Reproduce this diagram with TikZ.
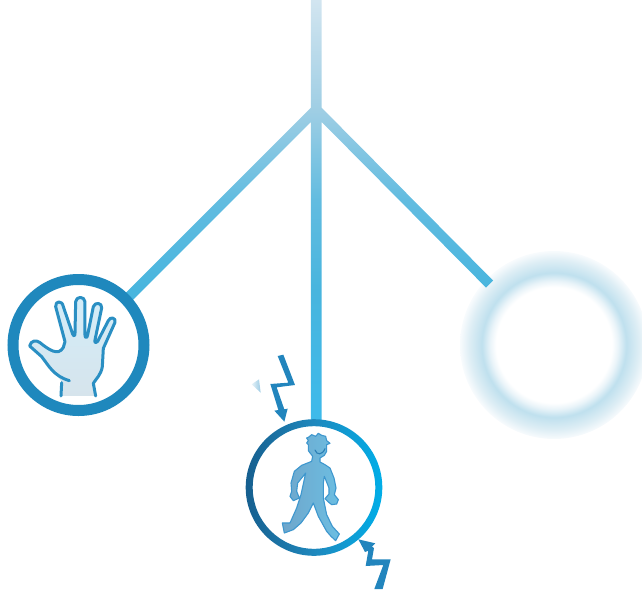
\documentclass[tikz,border=0pt]{standalone}
\usetikzlibrary{calc}
\definecolor{ringblue}{HTML}{1F88BD}
\definecolor{boltblue}{HTML}{2285BD}
\definecolor{handline}{HTML}{2A8FC3}
\definecolor{sA}{HTML}{D2E5F0}
\definecolor{sB}{HTML}{9FCEE4}
\definecolor{sC}{HTML}{62BCE0}
\definecolor{sD}{HTML}{48B5DE}
\definecolor{sE}{HTML}{3DBAEB}
\definecolor{glowc}{HTML}{BFE0EE}
\definecolor{glowa}{HTML}{EAF4F9}
\definecolor{glowb}{HTML}{DEEEF5}
\definecolor{glowd}{HTML}{F8FBFD}
\definecolor{handtop}{HTML}{D3EDF9}
\definecolor{handbot}{HTML}{D6E4EC}
\definecolor{ringL}{HTML}{165F8F}
\definecolor{ringR}{HTML}{00AEE8}
\definecolor{persL}{HTML}{6FA6CB}
\definecolor{persR}{HTML}{6CBEE2}
\definecolor{persline}{HTML}{3E97CE}
\definecolor{smile}{HTML}{2B7FB5}
\definecolor{sparkc}{HTML}{9CCBE4}
\definecolor{sparka}{HTML}{E6F2F8}
\pgfdeclareverticalshading{trunkshade}{100bp}{color(0bp)=(sE);color(25bp)=(sE);color(40.7bp)=(sD);color(51.4bp)=(sC);color(62bp)=(sB);color(75bp)=(sA);color(100bp)=(sA)}
\pgfdeclareradialshading{glowshade}{\pgfpoint{0bp}{0bp}}{color(0bp)=(white);color(15.4bp)=(white);color(17bp)=(glowa);color(19.2bp)=(glowc);color(22.6bp)=(glowb);color(25bp)=(glowd);color(50bp)=(glowd)}
\tikzset{
  bolt/.style={fill=boltblue,draw=none},
  zoomed/.style={shift={#1},x=0.3333pt,y=-0.3333pt},
  outline/.style={handline,line width=3pt,line join=round,line cap=round},
}
\begin{document}
\begin{tikzpicture}[x=1pt,y=-1pt]
\useasboundingbox (0,0) rectangle (642,589);
\clip (0,0) rectangle (642,589);
% named anchors
\coordinate (top) at (316.3,0);
\coordinate (junction) at (316.3,109.5);
\coordinate (endL) at (121.3,304.5);
\coordinate (endR) at (489.5,284);
\coordinate (endM) at (316.3,423);
% glow ring
\shade[shading=glowshade] (554,345) circle[radius=94pt];
% trunk and branches
\shade[shading=trunkshade]
  ($(top)+(-5.4,0)$) -- ($(junction)+(-5.4,-1.7)$) -- ($(endL)+(-3.54,-3.54)$) -- ($(endL)+(3.54,3.54)$)
  -- ($(junction)+(-5.4,12.5)$) -- ($(endM)+(-5.4,0)$) -- ($(endM)+(5.4,0)$) -- ($(junction)+(5.4,12.5)$)
  -- ($(endR)+(-3.54,3.54)$) -- ($(endR)+(3.54,-3.54)$) -- ($(junction)+(5.4,-1.7)$) -- ($(top)+(5.4,0)$) -- cycle;
% hand circle
\node[circle,draw=ringblue,line width=11pt,fill=white,inner sep=0pt,minimum size=131pt] (handring) at (78.5,345) {};
% hand
\begin{scope}[zoomed={(25,290)}]
\shade[top color=handtop,bottom color=handbot,draw=none]
  (108,318) -- (110,275) -- (100,262) .. controls (75,245) and (65,220) .. (50,200) -- (14,168)
  .. controls (18,150) and (35,150) .. (45,158) .. controls (70,178) and (100,200) .. (115,172)
  -- (120,155) -- (92,50) .. controls (90,32) and (112,30) .. (115,50) -- (145,135)
  -- (150,135) -- (152,35) .. controls (154,18) and (178,18) .. (180,35) -- (180,140)
  -- (205,50) .. controls (210,35) and (232,38) .. (230,54) -- (212,155)
  -- (250,92) .. controls (256,78) and (274,84) .. (270,97) -- (235,175)
  -- (232,230) .. controls (228,255) and (212,268) .. (205,280) -- (212,318) -- cycle;
\draw[outline] (108,318) -- (110,278);
\draw[outline] (133,272) .. controls (85,258) and (70,225) .. (50,200) -- (14,168)
  .. controls (18,150) and (35,150) .. (45,158) .. controls (70,178) and (100,200) .. (115,172)
  -- (120,155) -- (92,50) .. controls (90,32) and (112,30) .. (115,50) -- (143,132)
  .. controls (146,140) and (150,138) .. (150,130) -- (152,35) .. controls (154,18) and (178,18) .. (180,35) -- (180,135)
  .. controls (180,145) and (186,145) .. (188,135) -- (205,50) .. controls (210,35) and (232,38) .. (230,54) -- (210,150)
  .. controls (208,160) and (214,160) .. (218,154) -- (250,92) .. controls (256,78) and (274,84) .. (270,97) -- (235,175)
  -- (232,230) .. controls (228,255) and (212,268) .. (205,280) -- (212,318);
\end{scope}
% person ring
\fill[white] (314,487.5) circle[radius=61.3pt];
\shade[left color=ringL,right color=ringR,middle color=ringblue,even odd rule]
  (314,487.5) circle[radius=68.3pt] (314,487.5) circle[radius=61.3pt];
% person
\begin{scope}[zoomed={(275,428)}]
\shade[left color=persL,right color=persR,draw=persline,line width=1.1pt,line join=round]
 (100,28) -- (110,20) -- (122,25) -- (130,16) -- (140,22) -- (152,25) -- (155,38) -- (165,46) -- (155,50)
 -- (155,70) -- (148,82) -- (135,90) -- (135,102) -- (150,110) -- (165,120) -- (177,150) -- (183,180)
 -- (178,200) -- (190,215) -- (185,228) -- (170,230) -- (160,222) -- (150,212) -- (162,198) -- (162,180)
 -- (148,145) -- (145,165) -- (145,210) -- (155,260) -- (172,295) -- (193,318) -- (182,338) -- (168,325)
 -- (155,310) -- (130,265) -- (115,225) -- (100,255) -- (78,285) -- (55,305) -- (28,315) -- (22,285)
 -- (45,285) -- (65,240) -- (78,200) -- (92,135) -- (68,165) -- (65,190) -- (73,210) -- (55,218)
 -- (45,205) -- (50,190) -- (48,165) -- (58,130) -- (80,112) -- (110,100) -- (113,85) -- (100,68)
 -- (100,50) -- (95,45) -- (100,38) -- (95,30) -- cycle;
\draw[smile,line width=1.1pt,line cap=round] (120,66) .. controls (125,82) and (142,82) .. (150,62);
\end{scope}
% bolts
\begin{scope}[zoomed={(245,350)}]
\fill[bolt] (98,18) -- (115,14) -- (150,105) -- (95,112) -- (118,178) -- (128,176) -- (118,215) -- (88,182) -- (100,180) -- (76,102) -- (130,98) -- cycle;
\shade[left color=sparka,right color=sparkc] (20,103) -- (42,88) -- (47,128) -- cycle;
\end{scope}
\begin{scope}[zoomed={(350,530)}]
\fill[bolt] (25,28) -- (76,40) -- (66,50) -- (72,54) -- (66,88) -- (122,88) -- (98,177) -- (73,177) -- (100,105) -- (47,108) -- (55,62) -- (45,66) -- cycle;
\end{scope}
\end{tikzpicture}
\end{document}
